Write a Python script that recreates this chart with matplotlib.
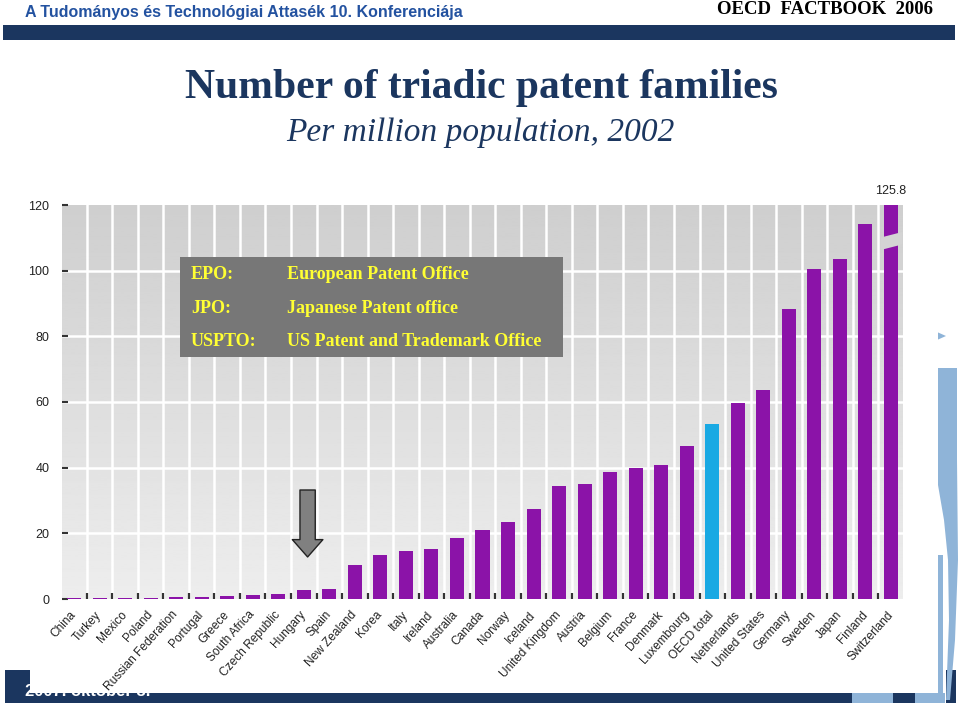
import numpy as np
import matplotlib
matplotlib.use('Agg')
import matplotlib.pyplot as plt
from matplotlib.patches import Polygon


# DATA
countries = ['China', 'Turkey', 'Mexico', 'Poland', 'Russian Federation', 'Portugal',
             'Greece', 'South Africa', 'Czech Republic', 'Hungary', 'Spain',
             'New Zealand', 'Korea', 'Italy', 'Ireland', 'Australia', 'Canada',
             'Norway', 'Iceland', 'United Kingdom', 'Austria', 'Belgium', 'France',
             'Denmark', 'Luxembourg', 'OECD total', 'Netherlands', 'United States',
             'Germany', 'Sweden', 'Japan', 'Finland', 'Switzerland']
patents = [0.2, 0.3, 0.3, 0.3, 0.7, 0.7, 0.8, 1.2, 1.4, 2.7, 3.1,
           10.3, 13.3, 14.6, 15.3, 18.7, 21.1, 23.5, 27.5, 34.5, 34.9, 38.7, 39.8,
           40.8, 46.6, 53.4, 59.7, 63.7, 88.2, 100.4, 103.7, 114.2, 125.8]
y_ticks = [0, 20, 40, 60, 80, 100, 120]
highlight = 'OECD total'
clipped = 'Switzerland'

offices = ['EPO:', 'JPO:', 'USPTO:']
office_names = ['European Patent Office', 'Japanese Patent office',
                'US Patent and Trademark Office']

# COLOURS
NAVY = '#1b365f'
LIGHT_BLUE = '#8fb4d8'
PURPLE = '#8b13a8'
CYAN = '#19a9e3'

W, H = 960, 706


def px(x, y):
    # slide pixel -> figure fraction
    return x / W, 1 - y / H


def slide_poly(points, color, z=1):
    fig.patches.append(Polygon([px(*p) for p in points], closed=True,
                               transform=fig.transFigure, facecolor=color,
                               edgecolor='none', zorder=z))


fig = plt.figure(figsize=(9.6, 7.06), dpi=100)
fig.patch.set_facecolor('white')

# SLIDE DECORATION
fig.text(*px(25, 13), 'A Tudományos és Technológiai Attasék 10. Konferenciája',
         color='#2352a0', fontsize=11.5, family='Liberation Sans',
         fontweight='bold', ha='left', va='center')
fig.text(*px(933, 9), 'OECD  FACTBOOK  2006', color='black', fontsize=13.5,
         family='Liberation Serif', fontweight='bold', ha='right', va='center')
slide_poly([(3, 25), (955, 25), (955, 40), (3, 40)], NAVY)

# bottom band
slide_poly([(5, 670), (852, 670), (852, 703), (5, 703)], NAVY)
slide_poly([(852, 693), (893, 693), (893, 703), (852, 703)], LIGHT_BLUE)
slide_poly([(893, 693), (915, 693), (915, 703), (893, 703)], NAVY)
slide_poly([(915, 693), (945, 693), (945, 703), (915, 703)], LIGHT_BLUE)
slide_poly([(946, 670), (956, 670), (956, 703), (946, 703)], NAVY)
fig.text(*px(25, 691), '2007. október 3.', color='white', fontsize=12,
         family='Liberation Sans', fontweight='bold', ha='left', va='center', zorder=1)

# right side shape
slide_poly([(938, 368), (957, 368), (957, 460), (958, 560), (955, 640), (950, 700),
            (946, 700), (949, 620), (948, 560), (944, 520), (938, 485)], LIGHT_BLUE)
slide_poly([(938, 555), (943, 555), (943, 703), (938, 703)], LIGHT_BLUE)
slide_poly([(937, 332), (946, 336), (937, 340)], LIGHT_BLUE)

# white chart panel
slide_poly([(30, 170), (938, 170), (938, 693), (30, 693)], 'white', z=2)

# TITLES
fig.text(*px(481, 88), 'Number of triadic patent families', color=NAVY, fontsize=30,
         family='Liberation Serif', fontweight='bold', ha='center', va='center', zorder=3)
fig.text(*px(480, 133), 'Per million population, 2002', color=NAVY, fontsize=24,
         family='Liberation Serif', style='italic', ha='center', va='center', zorder=3)

# CHART
left, bottom = px(62, 599)
right, top = px(903, 205)
ax = fig.add_axes([left, bottom, right - left, top - bottom], zorder=5)
ax.set_facecolor('none')

n = len(countries)
x = np.arange(n)
ax.set_xlim(-0.47, n - 0.53)
ax.set_ylim(0, 120)

# gradient background
grad = np.linspace(0.93, 0.81, 256).reshape(-1, 1)
ax.imshow(grad, extent=(-0.47, n - 0.53, 0, 120), aspect='auto', cmap='gray',
          vmin=0, vmax=1, origin='lower', zorder=0)

for b in np.arange(0.5, n - 1, 1):
    ax.axvline(b, color='white', lw=1.8, zorder=1)
for t in y_ticks[1:-1]:
    ax.axhline(t, color='white', lw=1.8, zorder=1)

colors = [CYAN if c == highlight else PURPLE for c in countries]
ax.bar(x, patents, width=0.55, color=colors, zorder=3)

# axis break on the clipped bar
ci = countries.index(clipped)
ax.add_patch(Polygon([(ci - 0.4, 106.3), (ci + 0.45, 108.0), (ci + 0.45, 111.8),
                      (ci - 0.4, 110.1)], closed=True, facecolor='#d4d4d4',
                     edgecolor='none', zorder=4))
ax.text(ci, 122.5, f'{patents[ci]}', ha='center', va='bottom', fontsize=9,
        family='Liberation Sans', color='#222222', clip_on=False)

ax.set_yticks(y_ticks)
ax.set_yticklabels([str(t) for t in y_ticks], fontsize=9, family='Liberation Sans',
                   color='#222222')
ax.tick_params(axis='y', direction='in', length=4, width=1.5, color='#333333', pad=9)

ax.set_xticks(x)
ax.set_xticklabels(countries, rotation=48, ha='right', va='center',
                   rotation_mode='anchor', fontsize=8.6, family='Liberation Sans',
                   color='#222222')
ax.tick_params(axis='x', which='major', length=0, pad=10)
ax.set_xticks(np.arange(0.5, n - 1, 1), minor=True)
ax.tick_params(axis='x', which='minor', direction='in', length=4, width=1.6,
               color='#333333')

for s in ax.spines.values():
    s.set_visible(False)

# grey arrow pointing at Hungary
ax.annotate('', xy=(9.15, 12.8), xytext=(9.15, 33.2),
            arrowprops=dict(arrowstyle='simple,head_length=1.25,head_width=2.2,tail_width=1.1',
                            mutation_scale=10, fc='#808080', ec='#222222', lw=1,
                            shrinkA=0, shrinkB=0), zorder=6)

# legend box with office abbreviations
slide_poly([(180, 257), (563, 257), (563, 357), (180, 357)], '#777777', z=10)
for i, (abbr, name) in enumerate(zip(offices, office_names)):
    yy = 275 + i * 33.5
    fig.text(*px(191, yy), abbr, color='#ffff33', fontsize=13, family='Liberation Serif',
             fontweight='bold', ha='left', va='center', zorder=11)
    fig.text(*px(287, yy), name, color='#ffff33', fontsize=13, family='Liberation Serif',
             fontweight='bold', ha='left', va='center', zorder=11)

plt.savefig('out.png', dpi=100, facecolor='white')
plt.close(fig)
